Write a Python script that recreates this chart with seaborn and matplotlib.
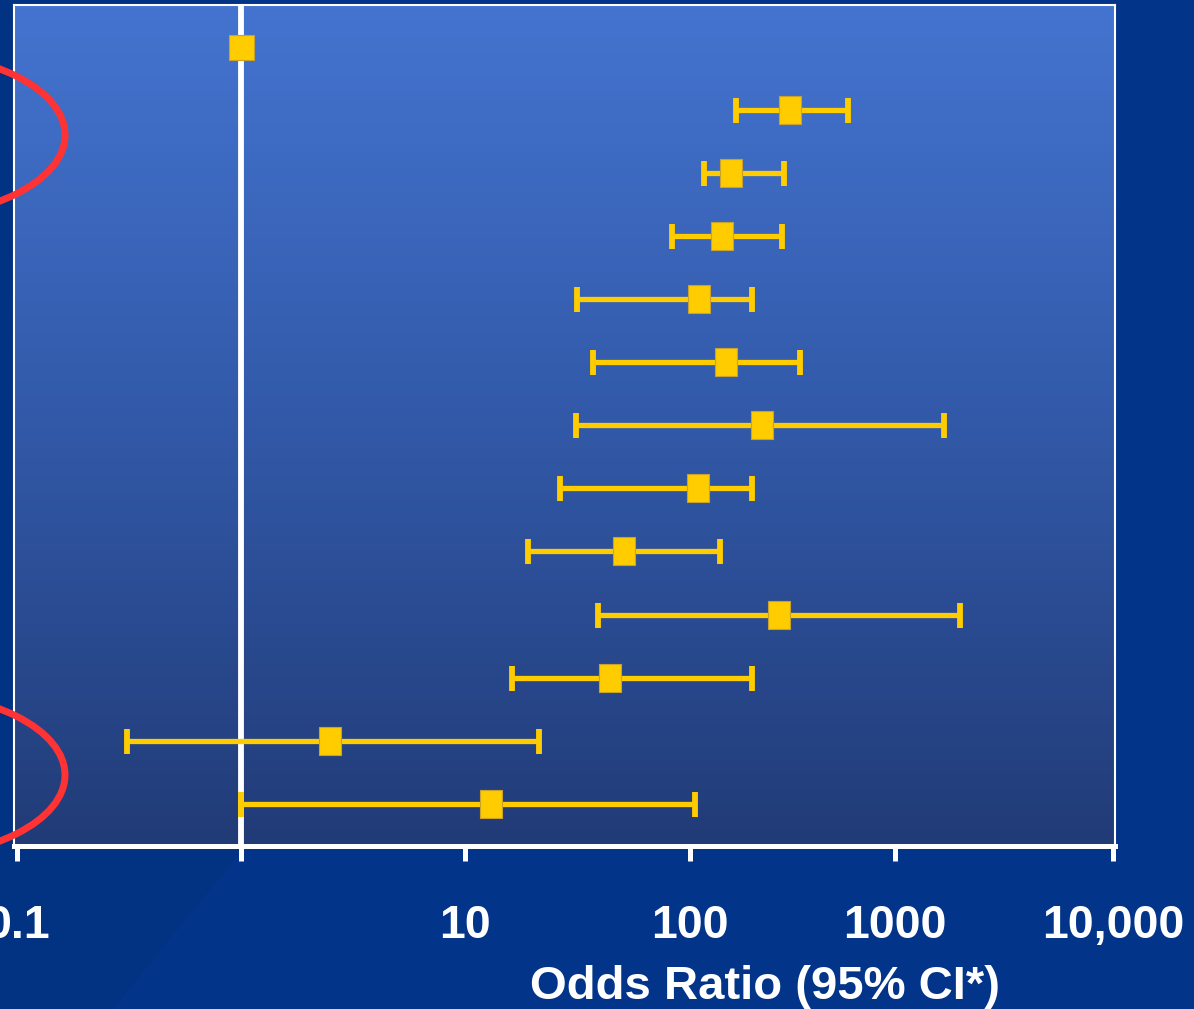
import numpy as np
import pandas as pd
import matplotlib
matplotlib.use("Agg")
import matplotlib.pyplot as plt
from matplotlib.patches import Ellipse, Polygon
from matplotlib.colors import LinearSegmentedColormap
from matplotlib.path import Path
import seaborn as sns

# Odds ratios with 95% confidence limits, rows listed top to bottom
odds_ratio = [1.0, 308, 158, 143, 111, 150, 224, 109, 51, 272, 44, 2.5, 13]
ci_low = [np.nan, 168, 117, 83, 31.5, 37, 31, 26.4, 19, 39, 16.2, 0.31, 1.0]
ci_high = [np.nan, 590, 288, 281, 200, 344, 1680, 200, 140, 1990, 200, 21.3, 106]

tick_values = [0.1, 1, 10, 100, 1000, 10000]
tick_labels = ["0.1", "", "10", "100", "1000", "10,000"]
x_label = "Odds Ratio (95% CI*)"

YELLOW = "#FFCC00"
BG = "#02348A"

sns.set_style("white")
plt.rcParams["font.family"] = ["Liberation Sans", "DejaVu Sans"]
plt.rcParams["font.weight"] = "bold"

df = pd.DataFrame({"row": np.arange(len(odds_ratio)),
                   "odds": odds_ratio, "lo": ci_low, "hi": ci_high})

# Decade spacing of the odds-ratio axis (log axis with hand-set decade widths)
decade_exp = [-2, -1, 0, 1, 2, 3, 4, 5]
decade_pos = [-224, 0, 224, 448, 673, 878, 1096, 1314]


def fwd(x):
    x = np.asarray(x, dtype=float)
    return np.interp(np.log10(np.clip(x, 1e-12, None)), decade_exp, decade_pos)


def inv(p):
    return 10 ** np.interp(np.asarray(p, dtype=float), decade_pos, decade_exp)


W, H = 1194, 1009
fig = plt.figure(figsize=(W / 100, H / 100), dpi=100, facecolor=BG)

# slightly darker slide shading on the lower left
shade = [(0, 0), (245, 0), (245, 846), (232, 862), (113, 1009), (0, 1009)]
fig.add_artist(Polygon([(x / W, 1 - y / H) for x, y in shade], closed=True,
                       transform=fig.transFigure, facecolor="#023282",
                       edgecolor="none", zorder=-1))

ax = fig.add_axes([14 / W, 163 / H, 1101 / W, 841 / H])
ax.set_xscale("function", functions=(fwd, inv))

# vertical blue gradient panel
cmap = LinearSegmentedColormap.from_list("panel", ["#213B77", "#3259A8", "#4474D0"])
ax.imshow(np.linspace(0, 1, 256).reshape(-1, 1), cmap=cmap, aspect="auto",
          extent=[0, 1, 0, 1], transform=ax.transAxes, origin="lower", zorder=0)

ax.axvline(1, color="white", lw=4.2, zorder=2)

ci = df.dropna()
ax.errorbar(ci["odds"], ci["row"],
            xerr=[ci["odds"] - ci["lo"], ci["hi"] - ci["odds"]],
            fmt="none", ecolor=YELLOW, elinewidth=3.8, capsize=9, capthick=4.2,
            zorder=3)

box = Path([(-11, -14), (11, -14), (11, 14), (-11, 14), (-11, -14)], closed=True)
sns.scatterplot(data=df.iloc[1:], x="odds", y="row", marker=box, s=408,
                color=YELLOW, edgecolor="#C8A22A", linewidth=0.8, ax=ax,
                zorder=4, legend=False)
sns.scatterplot(data=df.iloc[:1], x="odds", y="row", marker="s", s=324,
                color=YELLOW, edgecolor="#C8A22A", linewidth=0.8, ax=ax,
                zorder=4, legend=False)

ax.set_xlim(inv(-3), inv(1098))
ax.set_ylim(len(odds_ratio) - 0.33, -0.666)
ax.set_xticks(tick_values)
ax.set_xticklabels(tick_labels)
ax.minorticks_off()
ax.tick_params(axis="x", which="major", bottom=True, direction="out",
               length=11, width=3.6, color="white", pad=31, labelsize=33.5,
               labelcolor="white")
ax.tick_params(axis="y", left=False, labelleft=False)
ax.set_ylabel("")
ax.set_xlabel(x_label, fontsize=34, color="white", fontweight="bold")
ax.xaxis.set_label_coords((765 - 14) / 1101, -0.141)

for side in ["top", "left", "right"]:
    ax.spines[side].set(color="white", linewidth=1.5, visible=True)
ax.spines["bottom"].set(color="white", linewidth=3.6, visible=True)

# red ellipses marking the two highlighted rows
for cy in [135, 775]:
    fig.add_artist(Ellipse((-100 / W, 1 - cy / H), 330 / W, 166 / H,
                           transform=fig.transFigure, fill=False,
                           edgecolor="#FF3333", linewidth=5, zorder=5))

fig.savefig("out.png", dpi=100, facecolor=BG)
